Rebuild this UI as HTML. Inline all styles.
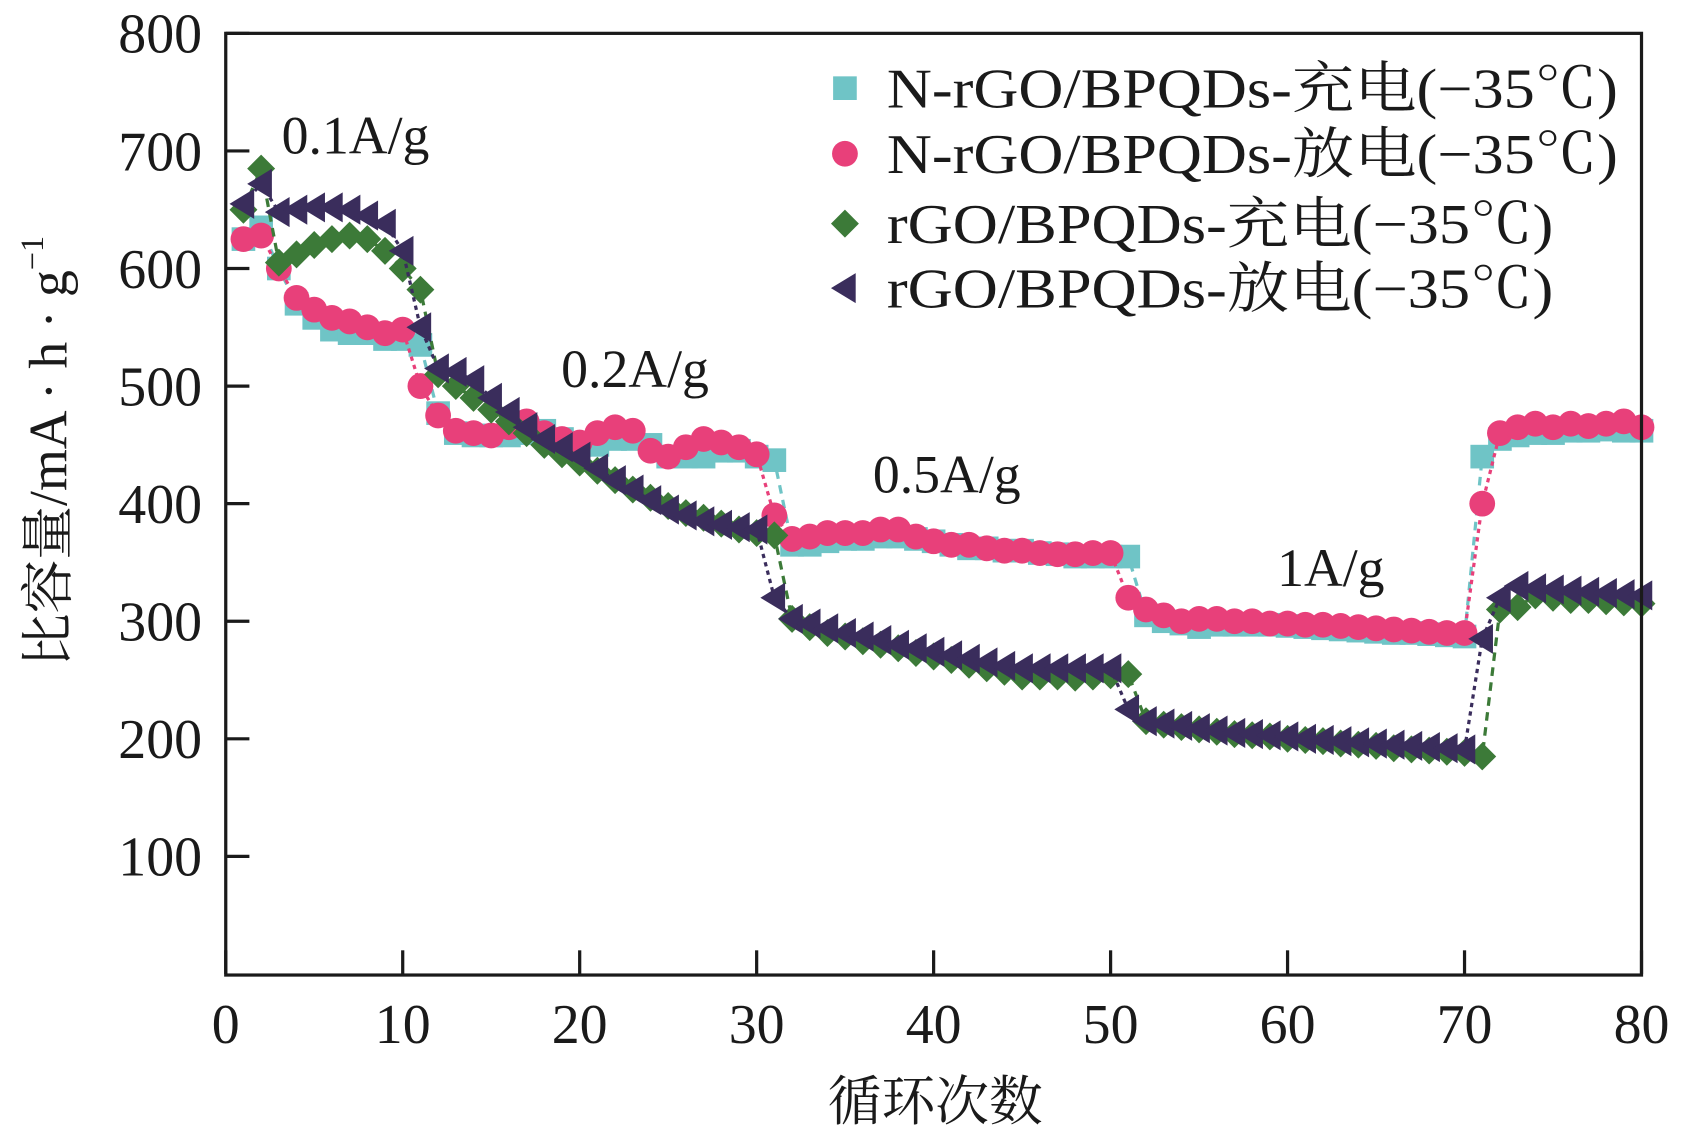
<!DOCTYPE html>
<html><head><meta charset="utf-8"><style>
html,body{margin:0;padding:0;background:#fff;}
svg{display:block;}
text{font-family:"Liberation Serif","Noto Serif CJK SC",serif;fill:#1a1a1a;}
</style></head><body>
<svg id="chart" width="1683" height="1139" viewBox="0 0 1565.6 1059.5" xmlns="http://www.w3.org/2000/svg">
<g id="marks"></g>
<rect x="210" y="31" width="1317" height="876" fill="none" stroke="#1a1a1a" stroke-width="3"/>
<g id="axes"></g>
<text x="870" y="1042" font-size="50" text-anchor="middle">循环次数</text>
<text transform="translate(62,420) rotate(-90)" font-size="50" text-anchor="middle">比容量/mA · h · g<tspan font-size="30" dy="-22">−1</tspan></text>
<text x="262" y="143" font-size="50">0.1A/g</text>
<text x="522" y="360" font-size="50">0.2A/g</text>
<text x="812" y="458" font-size="50">0.5A/g</text>
<text x="1188" y="545" font-size="50">1A/g</text>
<g id="legend"></g>
</svg>
<script>
const cycles = Array.from({length:80},(_,i)=>i+1);
const nrgoCharge = [625,635,600,570,558,548,545,545,540,540,535,477,460,458,458,458,460,462,455,450,450,455,455,450,440,440,440,445,445,440,437,365,365,368,370,370,372,372,370,368,365,362,362,360,360,358,357,355,355,355,355,305,300,298,295,297,297,297,297,296,295,294,293,292,291,290,290,289,288,287,440,455,458,460,460,462,462,463,462,462];
const nrgoDischarge = [625,628,600,575,565,558,555,550,545,548,500,475,462,460,458,465,470,460,455,452,460,465,462,445,440,448,455,452,448,442,390,370,372,375,375,375,378,378,372,368,365,365,362,360,360,358,357,357,358,358,320,310,305,300,302,302,300,300,298,298,297,297,296,295,294,293,292,291,290,290,400,460,465,468,465,468,466,468,470,465];
const rgoCharge = [650,685,605,612,620,625,628,625,615,600,582,510,500,490,480,470,460,450,442,435,428,420,412,405,398,392,388,383,378,375,373,302,295,290,287,283,280,277,273,270,267,263,260,257,253,253,253,252,253,254,255,215,212,210,208,206,204,203,202,200,199,198,196,195,194,192,191,190,189,188,185,310,312,322,320,318,318,317,316,315];
const rgoDischarge = [655,672,648,650,652,652,650,645,638,615,550,515,512,505,490,478,465,455,448,440,430,420,412,403,395,390,385,382,380,378,320,302,298,294,290,287,284,280,277,274,271,268,265,262,260,260,260,260,260,260,225,215,213,211,209,207,205,204,203,202,200,199,198,197,196,195,194,193,192,191,285,320,330,328,327,326,325,324,323,322];
const xTicks = [0,10,20,30,40,50,60,70,80];
const yTicks = [100,200,300,400,500,600,700,800];
const legendLabels = ['N-rGO/BPQDs-充电(−35℃)','N-rGO/BPQDs-放电(−35℃)','rGO/BPQDs-充电(−35℃)','rGO/BPQDs-放电(−35℃)'];

const NS='http://www.w3.org/2000/svg';
const X0=210,X1=1527,Y0=906,Y1=31;
function xs(v){return X0+(v/80)*(X1-X0);}
function ys(v){return Y0-(v/800)*(Y0-Y1);}
function mk(tag,attrs,parent){const e=document.createElementNS(NS,tag);for(const k in attrs)e.setAttribute(k,attrs[k]);parent.appendChild(e);return e;}

const axes=document.getElementById('axes');
xTicks.forEach(t=>{
  const l=mk('line',{x1:xs(t),x2:xs(t),y1:Y0,y2:Y0-22,stroke:'#1a1a1a','stroke-width':3},axes);
  
  
  const tx=mk('text',{x:xs(t),y:970,'font-size':52,'text-anchor':'middle'},axes);
  tx.textContent=t;
  
  
});
yTicks.forEach(t=>{
  const l=mk('line',{x1:X0,x2:X0+22,y1:ys(t),y2:ys(t),stroke:'#1a1a1a','stroke-width':3},axes);
  
  
  const tx=mk('text',{x:188,y:ys(t)+18,'font-size':52,'text-anchor':'end'},axes);
  tx.textContent=t;
  
  
});

const marks=document.getElementById('marks');
function marker(shape,color,x,y,parent){
  let e;
  if(shape==='square') e=mk('rect',{x:x-11,y:y-11,width:22,height:22,fill:color},parent);
  else if(shape==='circle') e=mk('circle',{cx:x,cy:y,r:12,fill:color},parent);
  else if(shape==='diamond') e=mk('polygon',{points:`${x},${y-13} ${x+13},${y} ${x},${y+13} ${x-13},${y}`,fill:color},parent);
  else e=mk('polygon',{points:`${x-13},${y} ${x+10},${y-14} ${x+10},${y+14}`,fill:color},parent);
  return e;
}
const series=[
  {name:'nrgo-charge',data:nrgoCharge,shape:'square',color:'#6fc4c6',dash:'8,6'},
  {name:'nrgo-discharge',data:nrgoDischarge,shape:'circle',color:'#e8407a',dash:'4,4'},
  {name:'rgo-charge',data:rgoCharge,shape:'diamond',color:'#3c7a38',dash:'8,6'},
  {name:'rgo-discharge',data:rgoDischarge,shape:'triangle',color:'#3a2d5c',dash:'4,4'}
];
series.forEach(s=>{
  const g=mk('g',{},marks);
  
  
  const pts=s.data.map((v,i)=>xs(cycles[i])+','+ys(v)).join(' ');
  const pl=mk('polyline',{points:pts,fill:'none',stroke:s.color,'stroke-width':3,'stroke-dasharray':s.dash},g);
  
  
  s.data.forEach((v,i)=>{
    const m=marker(s.shape,s.color,xs(cycles[i]),ys(v),g);
    
    
  });
});

const legend=document.getElementById('legend');
const legendY=[82,143,208,268];
const legendW=[680,680,620,620];
series.forEach((s,i)=>{
  const m=marker(s.shape,s.color,786,legendY[i],legend);
  
  
  const t=mk('text',{x:825,y:legendY[i]+18,'font-size':52,textLength:legendW[i],lengthAdjust:'spacingAndGlyphs'},legend);
  t.textContent=legendLabels[i];
  
  
});
</script>
</body></html>
